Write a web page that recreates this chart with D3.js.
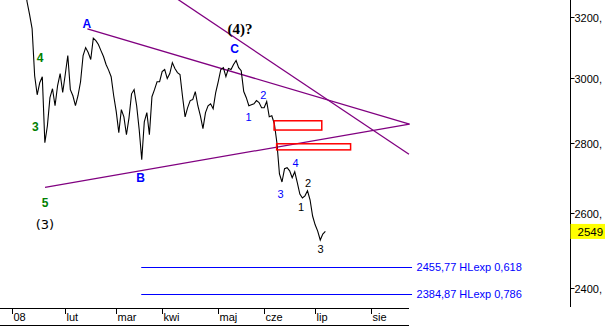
<!DOCTYPE html>
<html><head><meta charset="utf-8">
<script src="https://cdn.jsdelivr.net/npm/d3@7"></script>
<style>body{margin:0;background:#fff;overflow:hidden}svg{display:block}</style>
</head><body><div id="chart"></div>
<script>
// ---- data ----
const firstDay = 3; // trading-day index of the first close
const closes = [3450,3400,3330,3252,3208,3160,3006,2946,2984,3003,2800,2851,2937,2965,2912,2975,3013,2953,3010,3071,2962,2943,2912,2943,2987,3071,3097,3081,3058,3128,3120,3107,3087,3068,3042,3024,3003,2943,2894,2830,2900,2878,2824,2875,2949,2962,2912,2839,2750,2863,2891,2824,2940,2962,2987,2987,3019,3026,2997,3013,3048,3029,3016,3010,2940,2878,2906,2928,2931,2956,2912,2881,2842,2891,2912,2918,2903,2953,2987,3026,3032,3003,3029,3026,3042,3055,3032,3022,2956,2937,2912,2915,2918,2928,2922,2906,2906,2925,2878,2881,2857,2800,2709,2686,2724,2727,2718,2698,2715,2684,2652,2641,2647,2661,2636,2591,2567,2550,2526,2542,2549];
const lastClose = 2549;
const monthDays = [0,21,41,59,81,99,119,141];
const monthLabels = ["08","lut","mar","kwi","maj","cze","lip","sie"];
const priceTicks = [2400,2600,2800,3000,3200];
const priceTickLabels = ["2400,","2600,","2800,","3000,","3200,"];
// trendlines: [day, price] pairs
const lineA = [[29.7,3159],[156.0,2856]];
const line5 = [[13.06,2671],[156.0,2856]];
const lineSteep = [[65.2,3259],[155.8,2766]];
// price gaps: day start, day end, low, high
const gapStart = [102.9,103.9];
const gapEnd = [121.6,132.9];
const gapLow = [2838,2779];
const gapHigh = [2866,2797];
// fibonacci target levels
const fibLevels = [2455.77,2384.87];
const fibLabels = ["2455,77 HLexp 0,618","2384,87 HLexp 0,786"];
const fibFrom = 50.8, fibTo = 157;
// wave labels: text, day, price, kind
const waveText  = ["A","4","3","5","(3)","B","C","(4)?","1","2","3","4","2","1","3"];
const waveDay   = [29.5,11.1,9.3,13.06,13.06,50.5,87.4,89.5,92.9,98.7,105.4,111.3,116.2,113.5,121.1];
const wavePrice = [3177,3064,2849,2629,2567,2698,3095,3160,2878,2946,2652,2740,2682,2617,2503];
const waveKind  = ["abc","g","g","g","deg","abc","abc","deg4","sub","sub","sub","sub","minor","minor","minor"];

// ---- chart ----
const W = 605, H = 327;
const svg = d3.select("#chart").append("svg").attr("width",W).attr("height",H)
  .style("font-family","'Liberation Sans',Arial,sans-serif");
const x = d3.scaleLinear().domain([0,157]).range([11.7,412.05]);
const y = d3.scaleLog().domain([2400,3200]).range([288.3,16.7]);
const axisX = 570.5, axisBottom = 308;

svg.append("defs").append("clipPath").attr("id","plot").append("rect")
  .attr("x",0).attr("y",0).attr("width",570).attr("height",axisBottom);
const plot = svg.append("g").attr("clip-path","url(#plot)");

// trendlines
const purple = "#800080";
[lineA,line5,lineSteep].forEach(l=>{
  plot.append("line").attr("x1",x(l[0][0])).attr("y1",y(l[0][1]))
    .attr("x2",x(l[1][0])).attr("y2",y(l[1][1]))
    .attr("stroke",purple).attr("stroke-width",1.3);
});

// fib lines
fibLevels.forEach((v,i)=>{
  plot.append("line").attr("x1",x(fibFrom)).attr("x2",x(fibTo))
    .attr("y1",Math.round(y(v))+0.5).attr("y2",Math.round(y(v))+0.5)
    .attr("stroke","#0000ff").attr("stroke-width",1);
  plot.append("text").attr("x",x(fibTo)+4.5).attr("y",y(v)+4)
    .attr("fill","#0000ff").attr("font-size","11px").text(fibLabels[i]);
});

// price line
const pts = closes.map((c,i)=>[firstDay+i,c]);
plot.append("path").datum(pts)
  .attr("d",d3.line().x(d=>x(d[0])).y(d=>y(d[1])))
  .attr("fill","none").attr("stroke","#000").attr("stroke-width",1.1);

// gaps
gapStart.forEach((s,i)=>{
  plot.append("rect").attr("x",x(s)).attr("y",y(gapHigh[i]))
    .attr("width",x(gapEnd[i])-x(s)).attr("height",y(gapLow[i])-y(gapHigh[i]))
    .attr("fill","none").attr("stroke","#ff0000").attr("stroke-width",1.5);
});

// wave labels
const style = {
  abc:{fill:"#0000ff",size:12,weight:"bold",family:"'Liberation Sans',Arial,sans-serif"},
  g:{fill:"#008000",size:12,weight:"bold",family:"'Liberation Sans',Arial,sans-serif"},
  deg:{fill:"#000",size:13,weight:"normal",family:"'DejaVu Sans',sans-serif"},
  deg4:{fill:"#000",size:15,weight:"bold",family:"'Liberation Serif','Times New Roman',serif"},
  sub:{fill:"#0000ff",size:11,weight:"normal",family:"'Liberation Sans',Arial,sans-serif"},
  minor:{fill:"#000",size:11,weight:"normal",family:"'Liberation Sans',Arial,sans-serif"}
};
waveText.forEach((t,i)=>{
  const s = style[waveKind[i]];
  plot.append("text").attr("x",x(waveDay[i])).attr("y",y(wavePrice[i])+s.size*0.36)
    .attr("text-anchor","middle").attr("fill",s.fill).attr("font-size",s.size+"px")
    .attr("font-weight",s.weight).attr("font-family",s.family).text(t);
});

// right axis
svg.append("line").attr("x1",axisX).attr("x2",axisX).attr("y1",0).attr("y2",axisBottom-1)
  .attr("stroke","#000");
priceTicks.forEach((v,i)=>{
  const yy = Math.round(y(v))+0.5;
  svg.append("line").attr("x1",axisX).attr("x2",axisX+4).attr("y1",yy).attr("y2",yy).attr("stroke","#000");
  svg.append("text").attr("x",axisX+4).attr("y",yy+4).attr("font-size","11px").attr("fill","#000")
    .text(priceTickLabels[i]);
});
// last price box
const ly = y(lastClose);
svg.append("rect").attr("x",axisX).attr("y",ly-7.5).attr("width",W-axisX).attr("height",15).attr("fill","#ffff00");
svg.append("text").attr("x",axisX+7).attr("y",ly+4.5).attr("font-size","11.5px").attr("fill","#000")
  .text(String(lastClose));

// bottom axis
const bx2 = 409;
[axisBottom+0.5, 325.5].forEach(yy=>{
  svg.append("line").attr("x1",0).attr("x2",bx2).attr("y1",yy).attr("y2",yy).attr("stroke","#000");
});
monthDays.forEach((d,i)=>{
  const xx = Math.round(x(d))+0.5;
  svg.append("line").attr("x1",xx).attr("x2",xx).attr("y1",axisBottom+1).attr("y2",axisBottom+6).attr("stroke","#000");
  svg.append("text").attr("x",xx+1).attr("y",321).attr("font-size","11px").attr("fill","#000").text(monthLabels[i]);
});
</script></body></html>
